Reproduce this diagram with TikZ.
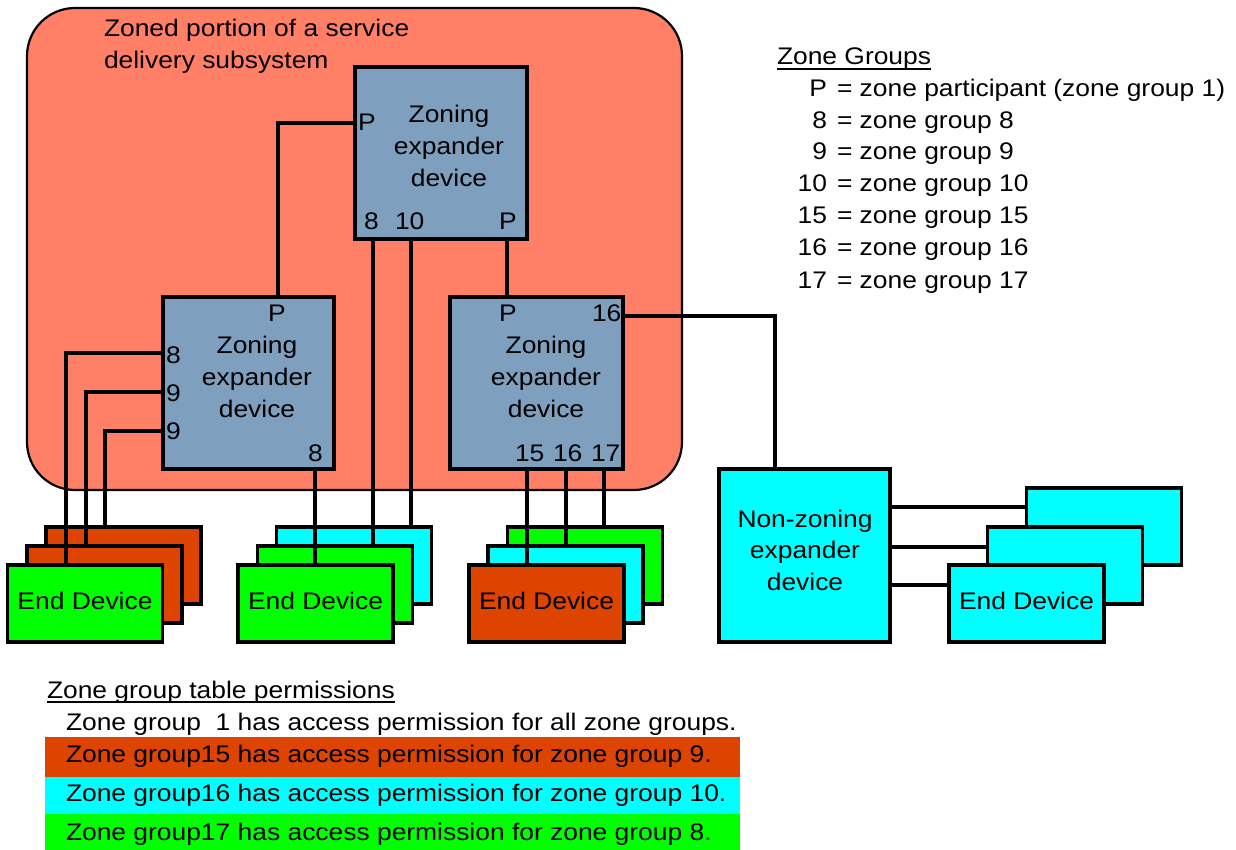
\documentclass[tikz,border=0pt]{standalone}
\usepackage{fontspec}
\setmainfont{Liberation Sans}[FakeStretch=1.1]
\definecolor{salmon}{RGB}{255,128,102}
\definecolor{steel}{RGB}{127,159,191}
\definecolor{rust}{RGB}{221,68,0}
\definecolor{aqua}{RGB}{0,255,255}
\definecolor{lime}{RGB}{0,255,0}
\tikzset{
  box/.style={draw=black, line width=3.5pt, inner sep=0pt, outer sep=0pt},
  zbox/.style={box, fill=steel, minimum width=172pt, minimum height=172pt},
  edev/.style={box, minimum width=155pt, minimum height=77pt},
  wire/.style={line width=3.4pt},
  txt/.style={inner sep=0pt, outer sep=0pt, anchor=base, font=\fontsize{24}{32}\selectfont},
  txtl/.style={txt, anchor=base west},
  txtr/.style={txt, anchor=base east},
  uline/.style={line width=1.8pt}
}
\begin{document}
\begin{tikzpicture}[x=1pt,y=-1pt]
\useasboundingbox (0,0) rectangle (1236,850);
% zoned region
\node[draw=black, fill=salmon, line width=2.2pt, rounded corners=48pt, minimum width=655pt, minimum height=482pt, inner sep=0pt] (zone) at (354.5,249) {};
\node[txtl] (title1) at (104,37) {Zoned portion of a service};
\node[txtl] (title2) at (104,69) {delivery subsystem};
% zoning expanders
\node[zbox] (zt) at (441,153) {};
\node[zbox, minimum width=171pt] (zl) at (248.5,383) {};
\node[zbox, minimum width=173pt] (zr) at (536.5,383) {};
\node[txt] (zt1) at (449,123) {Zoning};
\node[txt] (zt2) at (449,155) {expander};
\node[txt] (zt3) at (449,187) {device};
\node[txt] (zl1) at (257,353) {Zoning};
\node[txt] (zl2) at (257,385) {expander};
\node[txt] (zl3) at (257,417) {device};
\node[txt] (zr1) at (546,353) {Zoning};
\node[txt] (zr2) at (546,385) {expander};
\node[txt] (zr3) at (546,417) {device};
% port labels
\node[txtl] (ztPl) at (358,131) {P};
\node[txtl] (zt8l) at (364,230) {8};
\node[txtl] (zt10l) at (395,230) {10};
\node[txtl] (ztP2l) at (499,230) {P};
\node[txtl] (zlPl) at (268,321) {P};
\node[txtl] (zl8l) at (166,363) {8};
\node[txtl] (zl9al) at (166,401) {9};
\node[txtl] (zl9bl) at (166,439) {9};
\node[txtl] (zl8bl) at (308,461) {8};
\node[txtl] (zrPl) at (499,321) {P};
\node[txtl] (zr16al) at (592,321) {16};
\node[txtl] (zr15l) at (515,461) {15};
\node[txtl] (zr16l) at (553,461) {16};
\node[txtl] (zr17l) at (591,461) {17};
% end devices, left group
\node[edev, fill=rust] (la) at (123.5,565.5) {};
\node[edev, fill=rust] (lb) at (104.5,584.5) {};
\node[edev, fill=lime] (lc) at (85,603.5) {};
\node[txt] (lct) at (85,609) {End Device};
% middle group
\node[edev, fill=aqua] (ma) at (354,565.5) {};
\node[edev, fill=lime] (mb) at (335,584.5) {};
\node[edev, fill=lime] (mc) at (315.5,603.5) {};
\node[txt] (mct) at (315.5,609) {End Device};
% right group
\node[edev, fill=lime] (ra) at (585,565.5) {};
\node[edev, fill=aqua] (rb) at (565.5,584.5) {};
\node[edev, fill=rust] (rc) at (546.5,603.5) {};
\node[txt] (rct) at (546.5,609) {End Device};
% non-zoning expander
\node[box, fill=aqua, minimum width=171pt, minimum height=173pt] (nz) at (804.5,555.5) {};
\node[txt] (nz1) at (805,527) {Non-zoning};
\node[txt] (nz2) at (805,558) {expander};
\node[txt] (nz3) at (805,590) {device};
\node[edev, fill=aqua] (na) at (1104,526.5) {};
\node[edev, fill=aqua] (nb) at (1065,565.5) {};
\node[edev, fill=aqua] (nc) at (1026.5,603.5) {};
\node[txt] (nct) at (1026.5,609) {End Device};
% port coordinates
\coordinate (ztP) at (zt.west |- 0,123);
\coordinate (zlP) at (278,297);
\coordinate (zt8) at (373,239);
\coordinate (zt10) at (411,239);
\coordinate (ztP2) at (507,239);
\coordinate (zrP) at (507,297);
\coordinate (zl8) at (zl.west |- 0,353);
\coordinate (zl9a) at (zl.west |- 0,392);
\coordinate (zl9b) at (zl.west |- 0,431);
\coordinate (zl8b) at (315,469);
\coordinate (zr15) at (527,469);
\coordinate (zr16) at (566,469);
\coordinate (zr17) at (604,469);
\coordinate (zr16a) at (zr.east |- 0,316);
\coordinate (nzT) at (775,469);
% wires
\draw[wire] (ztP) -| (zlP);
\draw[wire] (ztP2) -- (zrP);
\draw[wire] (zt8) -- (zt8 |- mb.north);
\draw[wire] (zt10) -- (zt10 |- ma.north);
\draw[wire] (zl8) -| (66,0 |- lc.north);
\draw[wire] (zl9a) -| (86,0 |- lb.north);
\draw[wire] (zl9b) -| (105,0 |- la.north);
\draw[wire] (zl8b) -- (zl8b |- mc.north);
\draw[wire] (zr15) -- (zr15 |- rc.north);
\draw[wire] (zr16) -- (zr16 |- rb.north);
\draw[wire] (zr17) -- (zr17 |- ra.north);
\draw[wire] (zr16a) -| (nzT);
\draw[wire] (nz.east |- 0,507) -- (na.west |- 0,507);
\draw[wire] (nz.east |- 0,547) -- (nb.west |- 0,547);
\draw[wire] (nz.east |- 0,585) -- (nc.west |- 0,585);
% zone groups legend
\node[txtl] (zg) at (777,65) {Zone Groups};
\draw[uline] ([yshift=-4pt]zg.base west) -- ([yshift=-4pt]zg.base east);
\node[txtr] (g1a) at (827,97) {P};
\node[txtl] (g1b) at (837,97) {= zone participant (zone group 1)};
\node[txtr] (g2a) at (827,128.5) {8};
\node[txtl] (g2b) at (837,128.5) {= zone group 8};
\node[txtr] (g3a) at (827,160) {9};
\node[txtl] (g3b) at (837,160) {= zone group 9};
\node[txtr] (g4a) at (827,192) {10};
\node[txtl] (g4b) at (837,192) {= zone group 10};
\node[txtr] (g5a) at (827,224) {15};
\node[txtl] (g5b) at (837,224) {= zone group 15};
\node[txtr] (g6a) at (827,256) {16};
\node[txtl] (g6b) at (837,256) {= zone group 16};
\node[txtr] (g7a) at (827,288) {17};
\node[txtl] (g7b) at (837,288) {= zone group 17};
% permissions
\fill[rust] (45,737) rectangle (740,777);
\fill[aqua] (45,777) rectangle (740,814);
\fill[lime] (45,814) rectangle (740,850);
\node[txtl] (pt) at (47,698) {Zone group table permissions};
\draw[uline] ([yshift=-4pt]pt.base west) -- ([yshift=-4pt]pt.base east);
\node[txtl] (p1) at (66,730) {Zone group\ \ 1 has access permission for all zone groups.};
\node[txtl] (p2) at (66,762) {Zone group15 has access permission for zone group 9.};
\node[txtl] (p3) at (66,801) {Zone group16 has access permission for zone group 10.};
\node[txtl] (p4) at (66,840) {Zone group17 has access permission for zone group 8.};
\end{tikzpicture}
\end{document}
